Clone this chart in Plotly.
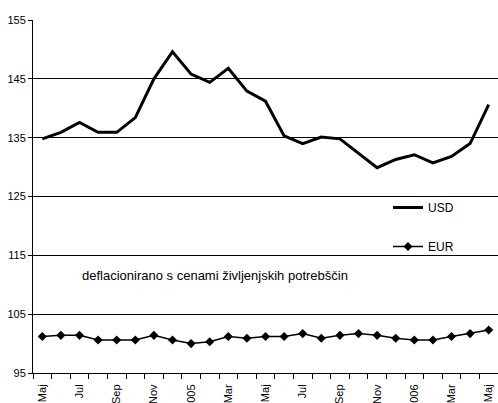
import plotly.graph_objects as go

months = ["Maj", "Jun", "Jul", "Avg", "Sep", "Okt", "Nov", "Dec", "2005", "Feb", "Mar", "Apr",
          "Maj", "Jun", "Jul", "Avg", "Sep", "Okt", "Nov", "Dec", "2006", "Feb", "Mar", "Apr", "Maj"]
tick_labels = ["Maj", "Jul", "Sep", "Nov", "2005", "Mar", "Maj", "Jul", "Sep", "Nov", "2006", "Mar", "Maj"]

usd = [134.8, 135.9, 137.6, 135.9, 135.9, 138.4, 145.0, 149.6, 145.8, 144.4, 146.8, 142.9,
       141.2, 135.3, 134.0, 135.1, 134.8, 132.3, 129.9, 131.3, 132.1, 130.7, 131.8, 134.0, 140.6]
eur = [101.2, 101.4, 101.4, 100.6, 100.6, 100.6, 101.4, 100.6, 100.0, 100.3, 101.2, 100.9,
       101.2, 101.2, 101.7, 100.9, 101.4, 101.7, 101.4, 100.9, 100.6, 100.6, 101.2, 101.7, 102.3]
y_ticks = [95, 105, 115, 125, 135, 145, 155]

x = list(range(len(months)))
FONT = "Arial, Liberation Sans, sans-serif"

fig = go.Figure()
fig.add_trace(go.Scatter(x=x, y=usd, name="USD", mode="lines",
                         line=dict(color="black", width=3), legendgroup="a"))
fig.add_trace(go.Scatter(x=x, y=eur, name="EUR", mode="lines+markers",
                         line=dict(color="black", width=1.5),
                         marker=dict(symbol="diamond", size=7, color="black"),
                         legendgroup="b"))

W, H = 498, 403
ml, mr, mt, mb = 33, 0, 20, 30
pw, ph = W - ml - mr, H - mt - mb

def px_x(p):
    return (p - ml) / pw

def px_y(p):
    return (H - mb - p) / ph

fig.add_shape(type="rect", xref="paper", yref="paper",
              x0=px_x(363), x1=px_x(485), y0=px_y(265), y1=px_y(188),
              fillcolor="white", line=dict(width=0), layer="between")

fig.add_annotation(x=px_x(215), y=px_y(285), xref="paper", yref="paper",
                   text="deflacionirano s cenami življenjskih potrebščin",
                   showarrow=False, font=dict(family=FONT, size=13, color="black"))

fig.update_layout(
    width=W, height=H,
    margin=dict(l=ml, r=mr, t=mt, b=mb, autoexpand=False),
    plot_bgcolor="white", paper_bgcolor="white",
    font=dict(family=FONT, size=11, color="black"),
    showlegend=True,
    legend=dict(x=px_x(388), y=px_y(193), xanchor="left", yanchor="top",
                bgcolor="rgba(0,0,0,0)", font=dict(family=FONT, size=12, color="black"),
                tracegroupgap=20, borderwidth=0),
)
fig.update_xaxes(range=[-0.5, len(months) - 0.5],
                 tickmode="array", tickvals=x[::2], ticktext=tick_labels,
                 tickangle=-90, ticks="", showgrid=False, zeroline=False,
                 showline=True, linecolor="black", linewidth=1,
                 ticklabelstandoff=6,
                 minor=dict(ticks="outside", ticklen=5, tickcolor="black",
                            tick0=-0.5, dtick=1, showgrid=False),
                 automargin=False)
fig.update_yaxes(range=[95, 155], tickmode="array", tickvals=y_ticks,
                 showgrid=True, gridcolor="black", gridwidth=1, zeroline=False,
                 showline=True, linecolor="black", linewidth=1,
                 ticks="outside", ticklen=4, tickcolor="black",
                 automargin=False)

fig.write_html("out.html", config={"displayModeBar": False},
               post_script="document.body.style.margin='0';document.body.style.padding='0';")
